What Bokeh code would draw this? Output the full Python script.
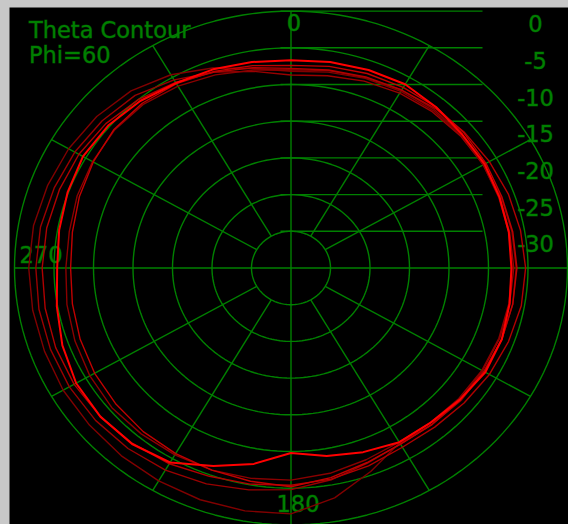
import math
from bokeh.plotting import figure
from bokeh.models import Range1d
from bokeh.core.properties import value
from bokeh.embed import file_html
from bokeh.resources import INLINE

# ---------------- data ----------------
ANGLES = list(range(0, 360, 10))

TRACE_BRIGHT = [-6.7, -6.5, -6.3, -6.1, -6.4, -6.7, -6.7, -6.9, -7.0, -7.1, -6.9, -6.6,
                -6.6, -7.1, -7.5, -7.6, -8.3, -9.0, -9.8, -7.9, -6.3, -4.4, -3.7, -3.5,
                -3.6, -4.2, -4.9, -5.4, -5.2, -4.9, -4.6, -4.8, -5.3, -5.9, -6.2, -6.5]
TRACE_2 = [-7.8, -7.6, -7.3, -7.0, -6.6, -6.3, -6.0, -5.7, -5.5, -5.3, -5.4, -5.7,
           -6.0, -6.4, -6.7, -6.8, -6.3, -5.8, -5.4, -5.1, -4.8, -4.2, -3.8, -3.5,
           -3.3, -3.3, -3.4, -3.5, -3.6, -3.8, -4.0, -4.4, -5.0, -5.8, -6.6, -7.3]
TRACE_3 = [-8.2, -7.9, -7.5, -7.2, -7.0, -6.9, -6.8, -6.7, -6.6, -6.5, -6.5, -6.6,
           -6.8, -6.9, -7.2, -7.5, -5.5, -3.2, -1.5, -1.4, -1.4, -1.5, -1.6, -1.7,
           -1.7, -1.8, -1.8, -1.8, -1.9, -2.2, -2.5, -2.9, -3.5, -4.6, -6.0, -7.4]
TRACE_4 = [-8.7, -8.4, -7.9, -7.5, -7.2, -7.0, -6.9, -6.9, -6.9, -6.8, -6.9, -6.9,
           -7.0, -7.1, -7.2, -7.3, -6.7, -5.7, -4.8, -4.3, -3.7, -3.2, -2.9, -2.7,
           -2.6, -2.6, -2.6, -2.7, -2.8, -3.1, -3.4, -3.8, -4.3, -5.4, -6.6, -7.8]
TRACE_5 = [-8.0, -7.7, -7.4, -7.0, -6.8, -6.8, -6.9, -7.0, -7.0, -7.0, -7.0, -7.0,
           -7.1, -7.3, -7.5, -7.6, -7.2, -6.6, -6.1, -5.9, -5.7, -5.6, -5.5, -5.4,
           -5.6, -5.9, -6.2, -6.5, -6.5, -6.2, -6.0, -5.8, -5.9, -6.4, -7.0, -7.6]
TRACE_6 = [-7.4, -7.1, -6.8, -6.6, -6.4, -6.4, -6.5, -6.6, -6.5, -6.4, -6.5, -6.6,
           -6.8, -7.0, -7.2, -7.3, -6.8, -6.0, -5.2, -5.5, -5.7, -5.8, -5.9, -6.1,
           -6.3, -6.6, -6.9, -7.1, -6.9, -6.5, -6.1, -5.7, -5.7, -6.0, -6.5, -7.0]

RING_DB = [0, -5, -10, -15, -20, -25, -30]
SCALE_LABELS = ["0", "-5", "-10", "-15", "-20", "-25", "-30"]
SPOKE_ANGLES = [30, 60, 120, 150, 210, 240, 300, 330]
ANGLE_LABELS = ["0", "180", "270"]
TITLE_LINES = ["Theta Contour", "Phi=60"]
DB_FLOOR = -35

# ---------------- layout ----------------
OX, OY = 9, 7                  # page offset of the figure
W, H = 568 - OX, 524 - OY
CX, CY = 290.5 - OX, 267.5 - OY   # centre in figure pixels (from top-left)
SX, SY = 7.9, 7.34             # pixels per dB unit (x, y)
GREEN = "#008000"
FONT = value("DejaVu Sans")
FS = "22.5px"
TEXT_STYLE = dict(text_font=FONT, text_font_size=FS, text_color=GREEN,
                  text_outline_color="rgba(0,128,0,0.45)")


def dx(px):      # page x pixel -> data x
    return (px - OX - CX) / SX


def dy(py):      # page y pixel -> data y
    return (CY - (py - OY)) / SY


p = figure(width=W, height=H,
           x_range=Range1d(-CX / SX, (W - CX) / SX),
           y_range=Range1d(-(H - CY) / SY, CY / SY),
           output_backend="svg", toolbar_location=None,
           x_axis_type=None, y_axis_type=None,
           min_border=0, background_fill_color="black",
           border_fill_color="black", outline_line_color=None)
p.grid.visible = False


def rad(db):
    return max(db - DB_FLOOR, 0.0)


def polar_xy(angles, dbs):
    xs, ys = [], []
    for a, d in zip(angles, dbs):
        r = rad(d)
        t = math.radians(a)
        xs.append(r * math.sin(t))
        ys.append(r * math.cos(t))
    xs.append(xs[0])
    ys.append(ys[0])
    return xs, ys


LW = 1.4
# rings
full = list(range(0, 360, 2))
for db in RING_DB:
    xs, ys = polar_xy(full, [db] * len(full))
    p.line(xs, ys, line_color=GREEN, line_width=LW)

# spokes
r_in, r_out = rad(RING_DB[-1]), rad(RING_DB[0])
for a in SPOKE_ANGLES:
    t = math.radians(a)
    p.line([r_in * math.sin(t), r_out * math.sin(t)],
           [r_in * math.cos(t), r_out * math.cos(t)], line_color=GREEN, line_width=LW)

# axes through centre
p.line([0, 0], [-r_out, r_out], line_color=GREEN, line_width=LW)
p.line([-r_out, r_out], [0, 0], line_color=GREEN, line_width=LW)

# scale lines on the right
for db in RING_DB:
    y = rad(db)
    p.line([dx(280), dx(482)], [y, y], line_color=GREEN, line_width=LW)

p.text(x=[dx(535)] * len(RING_DB), y=[rad(d) for d in RING_DB],
       text=SCALE_LABELS, y_offset=12.5,
       text_align="center", text_baseline="middle", **TEXT_STYLE)

# angle labels
p.text(x=[dx(293.5), dx(297.5), dx(40.5)],
       y=[dy(21.5), dy(502.5), dy(253.5)],
       text=ANGLE_LABELS,
       text_align="center", text_baseline="middle", **TEXT_STYLE)

# title
p.text(x=[dx(28.5)] * 2, y=[dy(29.5), dy(54)],
       text=TITLE_LINES,
       text_align="left", text_baseline="alphabetic", **TEXT_STYLE)

# traces
traces = [(TRACE_3, "#800000", 1.4), (TRACE_4, "#9a0000", 1.4), (TRACE_5, "#8a0000", 1.4),
          (TRACE_2, "#b00000", 1.4), (TRACE_6, "#c00000", 1.4), (TRACE_BRIGHT, "#ff0000", 2.0)]
for vals, col, lw in traces:
    xs, ys = polar_xy(ANGLES, vals)
    p.line(xs, ys, line_color=col, line_width=lw)

html = file_html(p, INLINE)
html = html.replace("</head>",
                    "<style>html,body{background:#c8c8c8 !important;}"
                    "body{padding:7px 0 0 9px !important;}</style></head>", 1)
open("out.html", "w").write(html)
